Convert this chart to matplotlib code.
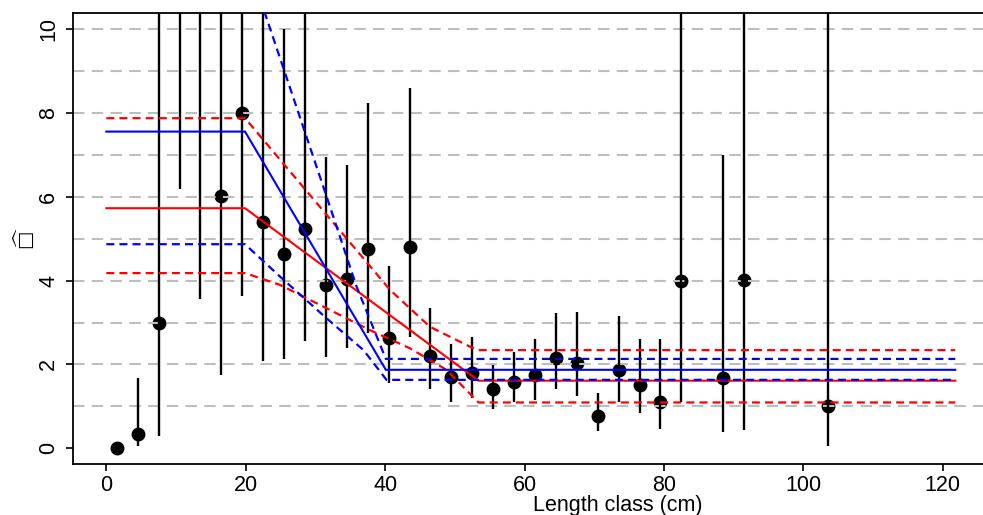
import numpy as np
import matplotlib
matplotlib.use("Agg")
import matplotlib.pyplot as plt

plt.rcParams['font.family'] = ['Liberation Sans', 'DejaVu Sans']

#Observed values per length class (midpoints, cm)
length_class = [1.5, 4.5, 7.5, 10.5, 13.5, 16.5, 19.5, 22.5, 25.5, 28.5, 31.5,
                34.5, 37.5, 40.5, 43.5, 46.5, 49.5, 52.5, 55.5, 58.5, 61.5, 64.5,
                67.5, 70.5, 73.5, 76.5, 79.5, 82.5, 88.5, 91.5, 103.5]
estimate = [0.0, 0.34, 3.0, 12.0, 11.0, 6.01, 8.0, 5.41, 4.64, 5.24, 3.90,
            4.03, 4.76, 2.62, 4.80, 2.20, 1.70, 1.80, 1.40, 1.59, 1.75, 2.15,
            2.03, 0.76, 1.87, 1.51, 1.11, 4.00, 1.68, 4.02, 1.01]
lower = [0.0, 0.05, 0.30, 6.18, 3.56, 1.75, 3.63, 2.07, 2.13, 2.57, 2.17,
         2.38, 2.74, 1.55, 2.66, 1.40, 1.11, 1.19, 0.93, 1.09, 1.15, 1.42,
         1.25, 0.42, 1.09, 0.85, 0.45, 1.11, 0.38, 0.43, 0.05]
upper = [0.0, 1.67, 14.0, 14.0, 14.0, 14.0, 14.0, 14.0, 10.0, 14.0, 6.95,
         6.76, 8.25, 4.35, 8.60, 3.34, 2.49, 2.66, 1.99, 2.30, 2.61, 3.22,
         3.25, 1.31, 3.16, 2.61, 2.60, 14.0, 7.00, 14.0, 14.0]

#Fitted broken-line models (red and blue) with their bands
red_fit_x = [0, 19.9, 53.4, 121.8]
red_fit_y = [5.73, 5.73, 1.61, 1.61]
red_up_x = [0, 19.9, 40.7, 46.4, 52.2, 53.2, 121.8]
red_up_y = [7.88, 7.88, 3.78, 2.90, 2.42, 2.34, 2.34]
red_lo_x = [0, 19.9, 24.9, 31.6, 37.8, 43.6, 48.8, 53.4, 121.8]
red_lo_y = [4.18, 4.18, 3.90, 3.34, 2.82, 2.38, 1.87, 1.09, 1.09]

blue_fit_x = [0, 19.9, 40.1, 121.8]
blue_fit_y = [7.56, 7.56, 1.87, 1.87]
blue_up_x = [0, 19.9, 31.6, 35.9, 40.1, 121.8]
blue_up_y = [11.8, 11.8, 6.01, 3.86, 2.13, 2.13]
blue_lo_x = [0, 19.9, 24.9, 31.6, 36.9, 40.2, 121.8]
blue_lo_y = [4.87, 4.87, 4.10, 3.10, 2.34, 1.63, 1.63]

grid_levels = [1, 2, 3, 4, 5, 6, 7, 8, 9, 10]
x_ticks = [0, 20, 40, 60, 80, 100, 120]
y_ticks = [0, 2, 4, 6, 8, 10]

fig = plt.figure(figsize=(9.83, 5.15), dpi=100)
#plot region runs past the right edge of the picture (cropped R plot)
ax = fig.add_axes([73/983, 1-464.3/515, 1090/983, (464.3-12.7)/515])

#error bars and points
ax.vlines(length_class, lower, upper, color="black", lw=1.7, zorder=3)
ax.plot(length_class, estimate, "o", color="black", ms=9, zorder=2)

#dashed reference lines
for h in grid_levels:
    ax.axhline(h, color="#bebebe", lw=1.5, dashes=(5.5, 3.5), zorder=2.5)

#model lines
dash = (3.6, 2.3)
ax.plot(red_fit_x, red_fit_y, color="red", lw=1.5, zorder=4)
ax.plot(red_up_x, red_up_y, color="red", lw=1.6, dashes=dash, zorder=4)
ax.plot(red_lo_x, red_lo_y, color="red", lw=1.6, dashes=dash, zorder=4)
ax.plot(blue_fit_x, blue_fit_y, color="blue", lw=1.5, zorder=4.5)
ax.plot(blue_up_x, blue_up_y, color="blue", lw=1.6, dashes=dash, zorder=4.5)
ax.plot(blue_lo_x, blue_lo_y, color="blue", lw=1.6, dashes=dash, zorder=4.5)

ax.set_xlim(-4.78, 151.6)
ax.set_ylim(-0.387, 10.40)
ax.set_xticks(x_ticks)
ax.set_yticks(y_ticks)
ax.tick_params(axis="both", length=5, width=1.2, labelsize=15.5, direction="out")
ax.tick_params(axis="x", pad=3)
ax.tick_params(axis="y", pad=5, labelrotation=90)
for lab in ax.get_yticklabels():
    lab.set_va("center")

ax.spines["right"].set_visible(False)
for s in ["left", "top", "bottom"]:
    ax.spines[s].set_linewidth(1.3)

ax.set_xlabel("Length class (cm)", fontsize=15.5)
ax.xaxis.set_label_coords((618-73)/1090, -0.068)
ax.set_ylabel("$\\widehat{\u25a1}$", fontsize=14)
ax.yaxis.set_label_coords(-0.034, 0.5)

fig.savefig("out.png", dpi=100)
